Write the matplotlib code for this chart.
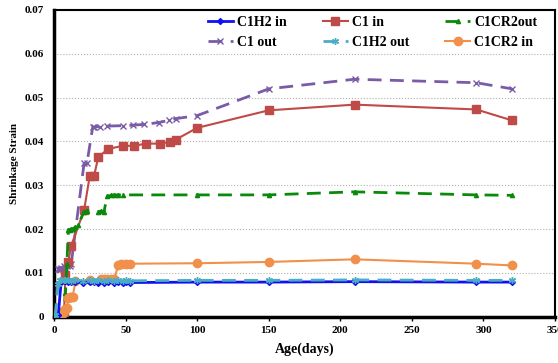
'''
Shrinkage strain vs age for the six specimens
'''
import matplotlib
matplotlib.use('Agg')
import matplotlib.pyplot as plt

# days and strain readings per series
c1h2_in_days = [0, 1, 3, 5, 7, 8, 10, 12, 15, 20, 25, 28, 31, 35, 38, 42, 45, 48, 50, 53,
                100, 150, 210, 295, 320]
c1h2_in = [0, 0.0003, 0.0005, 0.008, 0.0082, 0.0082, 0.008, 0.0079, 0.0079, 0.0078, 0.0079,
           0.0079, 0.0078, 0.0078, 0.0079, 0.0078, 0.0079, 0.0078, 0.0079, 0.0078,
           0.0079, 0.0079, 0.008, 0.0079, 0.0079]

c1_in_days = [0, 3, 5, 7, 8, 10, 12, 21, 25, 28, 31, 38, 48, 56, 64, 74, 81, 85,
              100, 150, 210, 295, 320]
c1_in = [0, 0.0003, 0.0005, 0.001, 0.0095, 0.0126, 0.0162, 0.0243, 0.0322, 0.0322, 0.0365,
         0.0383, 0.039, 0.039, 0.0395, 0.0395, 0.0399, 0.0404, 0.0431, 0.0471, 0.0484,
         0.0473, 0.0448]

c1cr2_out_days = [0, 1, 3, 5, 7, 8, 9, 10, 11, 12, 13, 15, 17, 21, 23, 31, 33, 35, 37, 40,
                  42, 45, 48, 100, 150, 210, 295, 320]
c1cr2_out = [0, 0.0002, 0.0004, 0.0005, 0.001, 0.0054, 0.012, 0.0198, 0.0199, 0.02, 0.02,
             0.0205, 0.021, 0.024, 0.0242, 0.024, 0.0241, 0.024, 0.0275, 0.0277, 0.0278,
             0.0278, 0.0278, 0.0278, 0.0278, 0.0285, 0.0278, 0.0277]

c1_out_days = [0, 1, 3, 4, 5, 6, 7, 8, 9, 10, 11, 12, 21, 23, 27, 28, 32, 37, 48, 55, 63,
               73, 80, 85, 100, 150, 210, 295, 320]
c1_out = [0, 0.0003, 0.011, 0.011, 0.0112, 0.011, 0.0115, 0.0112, 0.0115, 0.0118, 0.0115,
          0.012, 0.035, 0.035, 0.0432, 0.0433, 0.0434, 0.0435, 0.0436, 0.0437, 0.0439,
          0.0443, 0.0448, 0.0452, 0.0459, 0.052, 0.0542, 0.0534, 0.052]

c1h2_out_days = [0, 1, 3, 4, 5, 7, 8, 10, 12, 15, 20, 25, 28, 31, 35, 38, 42, 45, 48, 50,
                 53, 100, 150, 210, 295, 320]
c1h2_out = [0, 0.0003, 0.0075, 0.0083, 0.0083, 0.0084, 0.0083, 0.0083, 0.0082, 0.0083,
            0.0082, 0.0083, 0.0082, 0.0083, 0.0082, 0.0083, 0.0082, 0.0083, 0.0082, 0.0083,
            0.0082, 0.0083, 0.0083, 0.0084, 0.0083, 0.0083]

c1cr2_in_days = [0, 1, 2, 3, 4, 5, 6, 7, 8, 9, 10, 11, 12, 13, 15, 25, 33, 35, 37, 40, 42,
                 45, 47, 50, 53, 100, 150, 210, 295, 320]
c1cr2_in = [0, 0.0002, 0.0003, 0.0004, 0.0005, 0.0006, 0.0008, 0.0012, 0.0018, 0.002,
            0.0043, 0.0044, 0.0045, 0.0046, 0.0081, 0.0083, 0.0085, 0.0085, 0.0085, 0.0085,
            0.0085, 0.0119, 0.012, 0.012, 0.0121, 0.0122, 0.0125, 0.0131, 0.0121, 0.0117]

x_ticks = [0, 50, 100, 150, 200, 250, 300, 350]
y_ticks = [0, 0.01, 0.02, 0.03, 0.04, 0.05, 0.06, 0.07]
y_tick_labels = ['0', '0.01', '0.02', '0.03', '0.04', '0.05', '0.06', '0.07']

plt.rcParams['font.family'] = ['Liberation Serif', 'DejaVu Serif']
plt.rcParams['font.weight'] = 'bold'

fig = plt.figure(figsize=(5.58, 3.63), dpi=100)
ax = fig.add_axes([0.0968, 0.1275, 0.8978, 0.845])

ax.plot(c1h2_in_days, c1h2_in, color='#1010F0', lw=2, marker='D', ms=3, label='C1H2 in', zorder=5)
ax.plot(c1_out_days, c1_out, color='#7A5BA8', lw=2, ls=(0, (5, 3)), marker='x', ms=5,
        mew=1, label='C1 out', zorder=3)
ax.plot(c1_in_days, c1_in, color='#BE4B48', lw=1.5, marker='s', ms=5.5, label='C1 in', zorder=4)
ax.plot(c1h2_out_days, c1h2_out, color='#4BACC6', lw=2, ls=(0, (5, 3)), marker=(6, 2, 0),
        ms=5, mew=1, label='C1H2 out', zorder=6)
ax.plot(c1cr2_out_days, c1cr2_out, color='#0A8A0A', lw=2, ls=(0, (5, 3)), marker='^', ms=3,
        label='C1CR2out', zorder=4)
ax.plot(c1cr2_in_days, c1cr2_in, color='#F0904A', lw=1.5, marker='o', ms=6, label='C1CR2 in',
        zorder=4)

ax.set_xlim(0, 350)
ax.set_ylim(0, 0.07)
ax.set_xticks(x_ticks)
ax.set_yticks(y_ticks)
ax.set_yticklabels(y_tick_labels)
ax.tick_params(labelsize=8, length=3, width=1, pad=4)
ax.tick_params(axis='y', length=0, pad=7)
ax.grid(axis='y', color='#b0b0b0', ls=':', lw=0.8)
for side in ax.spines.values():
    side.set_linewidth(1.5)
ax.spines['left'].set_linewidth(2.5)
ax.spines['bottom'].set_linewidth(2.5)

ax.set_xlabel('Age(days)', fontsize=10, fontweight='bold')
ax.set_ylabel('Shrinkage Strain', fontsize=8, fontweight='bold', labelpad=4)
ax.xaxis.set_label_coords(0.5, -0.085)

ax.legend(ncol=3, loc='upper right', bbox_to_anchor=(0.99, 1.02), frameon=False,
          fontsize=10, handlelength=1.8, handletextpad=0.3, columnspacing=2.6,
          labelspacing=0.5)

plt.savefig('out.png', dpi=100)
